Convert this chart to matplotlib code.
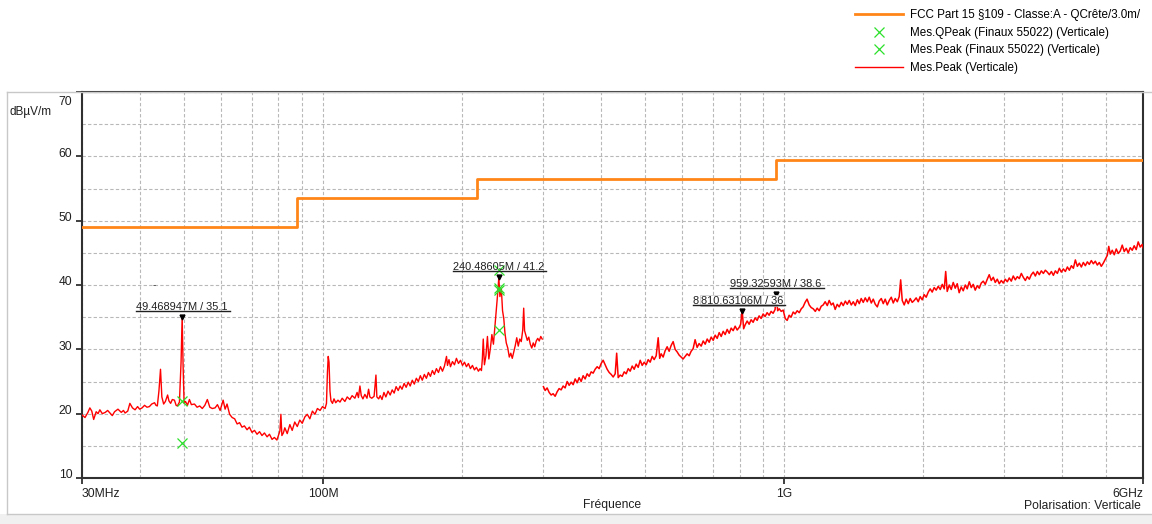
import numpy as np
import matplotlib
matplotlib.use('Agg')
import matplotlib.pyplot as plt
import matplotlib.transforms as mtrans
from matplotlib.lines import Line2D
from matplotlib.patches import Rectangle

plt.rcParams['font.family'] = ['Liberation Sans', 'DejaVu Sans']

W, H = 1152, 524

# FCC Part 15 class A limit at 3 m (MHz edges, dBuV/m)
limit_edges = [30, 88, 216, 960, 6000]
limit_levels = [49.0, 53.5, 56.4, 59.5]

# peak sweep, 30 - 300 MHz (MHz, dBuV/m)
peak_lo = [
    (30.0, 19.8), (30.45, 19.4), (30.9, 20.2), (31.2, 20.9), (31.5, 20.4), (31.8, 19.1),
    (32.2, 20.3), (32.5, 20.0), (32.8, 20.6), (33.2, 20.0), (33.7, 20.2), (34.1, 20.5),
    (34.5, 20.1), (34.9, 19.7), (35.3, 20.3), (35.9, 20.7), (36.5, 20.2), (36.9, 20.5),
    (37.2, 20.1), (37.7, 20.4), (38.1, 21.6), (38.6, 20.9), (39.1, 20.6), (39.6, 21.1),
    (40.0, 20.7), (40.5, 20.9), (41.0, 21.3), (41.5, 21.0), (42.0, 21.1), (42.5, 21.5),
    (43.1, 21.7), (43.4, 21.3), (43.7, 21.2), (44.05, 23.5), (44.4, 26.9), (44.7, 22.6),
    (45.1, 21.5), (45.5, 21.9), (46.0, 22.9), (46.3, 22.0), (46.7, 21.6), (47.1, 22.2),
    (47.6, 22.1), (48.0, 21.3), (48.3, 21.2), (48.8, 21.8), (49.2, 28.0), (49.47, 35.1),
    (49.7, 27.5), (49.95, 21.6), (50.3, 21.9), (50.8, 21.3), (51.3, 22.2), (51.8, 21.4),
    (52.6, 21.5), (53.3, 21.0), (54.0, 21.2), (54.7, 20.8), (55.4, 21.3), (56.1, 22.2),
    (56.8, 21.0), (57.5, 20.8), (58.3, 20.9), (59.0, 21.4), (59.8, 20.5), (60.7, 22.1),
    (61.3, 20.7), (61.9, 21.5), (62.7, 19.9), (63.5, 19.4), (64.3, 19.2), (65.1, 18.4),
    (65.9, 18.6), (66.7, 17.9), (67.5, 18.1), (68.4, 17.5), (69.2, 17.9), (70.1, 17.1),
    (71.0, 17.4), (71.9, 16.8), (72.8, 17.2), (73.7, 16.6), (74.6, 17.0), (75.6, 16.4),
    (76.5, 16.8), (77.5, 16.0), (78.4, 16.3), (79.4, 15.9), (80.0, 16.6), (80.6, 17.3),
    (81.0, 19.9), (81.4, 16.6), (82.0, 17.0), (82.6, 17.8), (83.6, 16.9), (84.7, 18.3),
    (85.7, 17.4), (86.8, 18.7), (87.9, 18.0), (89.0, 19.0), (90.1, 18.5), (91.3, 19.5),
    (92.4, 19.9), (93.6, 19.2), (94.8, 20.4), (96.0, 19.9), (97.2, 20.8), (98.5, 20.5),
    (99.7, 21.1), (101.0, 20.8), (101.7, 21.6), (102.2, 26.5), (102.6, 28.9), (103.0, 28.0),
    (103.5, 23.5), (104.0, 22.0), (104.8, 21.6), (105.6, 22.3), (106.5, 21.7), (107.7, 22.1),
    (108.8, 21.8), (110.0, 22.4), (111.5, 21.9), (112.8, 22.6), (114.3, 22.2), (115.6, 22.8),
    (117.2, 22.4), (118.5, 23.3), (119.3, 22.5), (120.2, 24.3), (121.0, 22.8), (122.0, 22.3),
    (123.2, 23.0), (124.5, 22.4), (125.5, 23.8), (126.3, 22.6), (127.5, 22.4), (129.0, 22.7),
    (130.2, 26.0), (130.8, 22.6), (132.0, 22.3), (133.0, 22.8), (134.2, 22.2), (135.5, 23.3),
    (136.8, 22.6), (138.3, 23.5), (139.8, 22.9), (141.2, 23.7), (142.6, 23.2), (144.0, 24.2),
    (145.5, 23.6), (146.9, 24.3), (148.3, 23.8), (149.9, 24.7), (151.4, 24.1), (153.0, 24.9),
    (154.5, 24.3), (156.1, 25.2), (157.7, 24.6), (159.3, 25.5), (160.9, 25.0), (162.5, 25.9),
    (164.1, 25.2), (165.8, 26.1), (167.5, 25.5), (169.2, 26.4), (170.9, 25.8), (172.6, 26.7),
    (174.3, 26.1), (176.1, 27.0), (177.9, 26.4), (179.7, 27.3), (181.5, 26.6), (183.3, 27.4),
    (185.2, 28.9), (186.1, 27.5), (187.5, 28.4), (188.9, 27.3), (190.8, 28.1), (192.7, 27.6),
    (194.6, 28.6), (196.6, 27.8), (198.6, 28.3), (200.6, 27.5), (202.6, 28.0), (204.6, 27.3),
    (206.6, 27.8), (208.7, 27.0), (210.8, 27.5), (212.9, 26.8), (215.0, 27.2), (217.2, 26.6),
    (219.0, 27.0), (220.5, 26.7), (221.5, 28.5), (222.5, 31.6), (223.8, 27.6), (225.5, 29.0),
    (227.2, 32.0), (228.8, 28.5), (230.6, 30.2), (232.3, 32.3), (234.1, 30.8), (235.8, 33.5),
    (237.6, 36.3), (239.0, 38.5), (240.5, 41.2), (241.8, 38.2), (243.5, 39.5), (245.0, 36.0),
    (246.5, 34.8), (248.0, 32.5), (249.6, 31.0), (251.5, 30.2), (253.4, 28.8), (255.3, 29.4),
    (257.2, 28.6), (259.1, 29.6), (261.1, 30.6), (263.0, 31.8), (265.0, 30.5), (267.0, 31.6),
    (269.0, 31.2), (271.0, 33.0), (272.3, 36.4), (273.5, 32.9), (275.2, 32.2), (277.2, 31.4),
    (279.3, 31.9), (281.4, 30.8), (283.5, 30.2), (285.6, 31.0), (287.7, 30.4), (289.9, 31.3),
    (292.1, 31.7), (294.3, 31.3), (296.5, 32.0), (298.7, 31.6),
]

# peak sweep, 300 MHz - 6 GHz
peak_hi = [
    (300.5, 24.2), (303.1, 23.6), (306.1, 24.0), (309.2, 23.3), (312.3, 22.9), (315.4, 23.1),
    (318.6, 22.7), (321.8, 23.4), (325.0, 23.9), (328.3, 23.7), (331.6, 24.3), (334.9, 24.0),
    (338.3, 25.0), (341.7, 24.4), (345.1, 24.9), (348.6, 24.5), (352.1, 25.4), (355.6, 24.8),
    (359.2, 25.6), (362.8, 25.0), (366.4, 25.9), (370.1, 25.4), (373.8, 26.2), (377.6, 25.8),
    (381.4, 26.5), (385.2, 26.3), (389.0, 26.9), (393.0, 27.3), (396.9, 27.0), (400.9, 27.8),
    (404.9, 28.3), (409.0, 27.6), (413.1, 26.9), (417.3, 26.4), (421.5, 26.1), (425.7, 25.7),
    (430.0, 26.2), (433.2, 29.4), (436.5, 25.6), (440.9, 26.0), (445.3, 25.8), (449.8, 26.5),
    (454.3, 26.2), (458.9, 27.0), (463.4, 26.6), (468.1, 27.4), (472.8, 26.9), (477.5, 27.7),
    (482.3, 27.2), (487.2, 28.3), (492.1, 27.5), (497.0, 28.0), (502.0, 27.6), (507.0, 28.4),
    (512.1, 28.0), (517.3, 28.9), (522.4, 28.4), (527.7, 29.0), (533.0, 31.8), (537.0, 28.6),
    (541.0, 29.3), (546.4, 28.8), (551.9, 29.8), (557.4, 30.4), (563.0, 29.7), (568.6, 30.6),
    (574.3, 31.2), (580.1, 30.0), (585.9, 29.6), (591.8, 29.1), (597.7, 28.8), (603.7, 28.5),
    (609.8, 28.9), (615.9, 29.3), (622.1, 29.0), (628.3, 29.7), (634.6, 30.1), (640.9, 31.5),
    (647.4, 30.3), (653.8, 30.9), (660.7, 30.5), (667.3, 31.3), (674.0, 30.8), (680.8, 31.6),
    (687.6, 31.1), (694.5, 31.9), (701.5, 31.4), (708.5, 32.2), (715.6, 31.7), (722.8, 32.6),
    (730.1, 32.0), (737.4, 32.8), (744.7, 32.3), (752.2, 33.1), (759.8, 32.5), (767.4, 33.3),
    (775.1, 32.9), (782.8, 33.6), (790.7, 33.0), (798.6, 33.4), (804.6, 33.9), (810.6, 36.0),
    (816.7, 33.2), (822.8, 33.8), (831.1, 34.4), (839.4, 33.9), (847.8, 34.6), (856.3, 34.2),
    (864.9, 34.9), (873.6, 34.5), (882.3, 35.2), (891.2, 34.8), (900.1, 35.5), (909.1, 35.1),
    (918.3, 35.7), (927.5, 35.3), (936.8, 35.9), (946.1, 35.6), (955.7, 36.2), (959.3, 38.6),
    (968.0, 36.0), (975.4, 36.3), (985.2, 35.9), (995.0, 36.1), (1005, 34.8), (1015, 34.5),
    (1025, 35.3), (1035, 35.0), (1046, 35.8), (1056, 35.5), (1067, 36.0), (1078, 35.7),
    (1089, 36.3), (1099, 36.6), (1110, 37.3), (1121, 37.8), (1133, 36.9), (1144, 36.5),
    (1156, 36.3), (1168, 35.9), (1179, 36.4), (1191, 36.0), (1203, 36.7), (1215, 36.9),
    (1227, 37.4), (1240, 36.8), (1252, 37.6), (1265, 36.9), (1277, 37.2), (1290, 36.2),
    (1303, 37.0), (1316, 36.6), (1330, 37.3), (1343, 36.8), (1357, 37.5), (1370, 37.0),
    (1384, 37.6), (1398, 36.9), (1412, 37.4), (1426, 36.8), (1441, 37.7), (1455, 37.1),
    (1469, 37.9), (1484, 37.3), (1499, 38.0), (1514, 37.4), (1529, 38.1), (1545, 37.2),
    (1560, 37.8), (1576, 37.0), (1592, 36.6), (1607, 37.5), (1624, 37.9), (1640, 37.1),
    (1656, 37.8), (1673, 36.9), (1690, 37.6), (1707, 38.1), (1724, 37.2), (1741, 37.9),
    (1759, 37.4), (1776, 38.2), (1789, 40.8), (1803, 37.6), (1821, 36.9), (1839, 37.8),
    (1858, 37.1), (1876, 37.9), (1895, 37.3), (1914, 37.6), (1933, 38.0), (1953, 37.4),
    (1972, 38.2), (1992, 37.7), (2012, 38.5), (2032, 38.1), (2053, 38.9), (2073, 39.4),
    (2094, 38.9), (2115, 39.6), (2136, 39.2), (2158, 39.8), (2180, 39.3), (2202, 40.1),
    (2224, 39.4), (2240, 42.1), (2257, 39.0), (2280, 40.0), (2303, 39.3), (2326, 40.4),
    (2349, 39.5), (2373, 40.2), (2396, 38.8), (2421, 39.7), (2445, 39.1), (2470, 40.0),
    (2494, 39.4), (2520, 40.5), (2545, 39.6), (2570, 40.1), (2596, 39.2), (2622, 39.9),
    (2649, 39.5), (2675, 40.3), (2702, 40.6), (2729, 40.1), (2757, 40.9), (2784, 41.6),
    (2812, 40.7), (2841, 41.2), (2869, 40.4), (2898, 40.9), (2927, 40.2), (2957, 40.7),
    (2986, 40.3), (3016, 40.9), (3047, 40.5), (3077, 41.1), (3108, 40.6), (3139, 41.4),
    (3171, 40.8), (3203, 41.3), (3235, 41.0), (3268, 41.8), (3300, 41.2), (3334, 40.7),
    (3367, 41.3), (3401, 40.9), (3435, 41.6), (3470, 42.0), (3505, 41.4), (3540, 42.1),
    (3575, 41.6), (3611, 42.2), (3648, 41.8), (3684, 42.3), (3721, 42.0), (3759, 41.6),
    (3797, 42.1), (3835, 41.5), (3873, 42.2), (3912, 41.8), (3951, 42.6), (3991, 42.0),
    (4031, 42.5), (4072, 42.1), (4113, 42.8), (4154, 42.3), (4196, 43.0), (4238, 42.6),
    (4280, 43.9), (4323, 42.9), (4366, 43.4), (4410, 42.8), (4454, 43.5), (4499, 43.0),
    (4544, 43.6), (4589, 43.2), (4635, 43.8), (4682, 43.3), (4729, 43.7), (4776, 43.1),
    (4824, 43.5), (4872, 42.9), (4921, 43.4), (4970, 44.0), (5020, 44.6), (5057, 46.0),
    (5095, 44.8), (5146, 45.4), (5198, 44.7), (5250, 45.6), (5303, 44.9), (5356, 45.3),
    (5409, 46.2), (5463, 45.2), (5518, 45.7), (5573, 45.0), (5629, 45.8), (5686, 45.4),
    (5742, 46.1), (5800, 45.5), (5858, 46.7), (5917, 45.9), (5977, 46.3), (6000, 45.8),
]

# final measurements (MHz, dBuV/m)
qpeak_f = [49.47, 240.2, 240.5]
qpeak_v = [15.4, 33.0, 39.3]
fpeak_f = [49.47, 240.6, 240.6]
fpeak_v = [21.9, 42.4, 39.5]

# marker labels
mark_f = [49.468947, 240.48605, 959.32593]
mark_v = [35.1, 41.2, 38.6]
mark_txt = ['49.468947M / 35.1', '240.48605M / 41.2', '959.32593M / 38.6']
mark2_f, mark2_v, mark2_txt = 810.63106, 36.0, '810.63106M / 36'

xticks = [30, 100, 1000, 6000]
xtick_labels = ['30MHz', '100M', '1G', '6GHz']

fig = plt.figure(figsize=(W / 100, H / 100), dpi=100)
ax = fig.add_axes([82 / W, 1 - 478 / H, (1143 - 82) / W, (478 - 92) / H])

# outer frame like the report viewer
fig.add_artist(Rectangle((0, 0), 1, 10 / H, transform=fig.transFigure,
                         facecolor='#f0f0f0', edgecolor='none', zorder=-5))
fig.add_artist(Line2D([7 / W, 7 / W], [10 / H, 1 - 92 / H], color='#c8c8c8', lw=1))
fig.add_artist(Line2D([7 / W, 1], [1 - 92 / H, 1 - 92 / H], color='#c8c8c8', lw=1))
fig.add_artist(Line2D([7 / W, 1], [10 / H, 10 / H], color='#c8c8c8', lw=1))

lo = np.array(peak_lo)
hi = np.array(peak_hi)
ax.plot(lo[:, 0], lo[:, 1], color='#ff0000', lw=1.0, zorder=3)
ax.plot(hi[:, 0], hi[:, 1], color='#ff0000', lw=1.1, zorder=3)
ax.step(limit_edges, limit_levels + [limit_levels[-1]], where='post',
        color='#ff8518', lw=2.0, zorder=4)

ax.plot(qpeak_f, qpeak_v, 'x', color='#2be02b', ms=7.5, mew=0.9, zorder=5)
ax.plot(fpeak_f, fpeak_v, 'x', color='#2be02b', ms=7.5, mew=0.9, zorder=5)

ax.set_xscale('log')
ax.set_xlim(30, 6000)
ax.set_ylim(10, 70)
ax.set_xticks(xticks)
ax.set_xticklabels(xtick_labels)
ax.xaxis.set_minor_locator(matplotlib.ticker.LogLocator(base=10, subs=np.arange(2, 10)))
ax.xaxis.set_minor_formatter(matplotlib.ticker.NullFormatter())
ax.set_yticks(np.arange(10, 71, 10))
ax.set_yticks(np.arange(15, 70, 10), minor=True)
ax.tick_params(which='major', length=4, width=1.3, color='#303030', labelsize=8.7,
               labelcolor='#202020', pad=3)
ax.tick_params(which='minor', length=0)
labs = ax.get_xticklabels()
labs[0].set_ha('left')
labs[-1].set_ha('right')
# y labels sit a little above their ticks, the top one is pushed inside
ylabs = ax.get_yticklabels()
up = mtrans.ScaledTranslation(0, 3 / 72, fig.dpi_scale_trans)
down = mtrans.ScaledTranslation(0, -6 / 72, fig.dpi_scale_trans)
for lab in ylabs[:-1]:
    lab.set_transform(lab.get_transform() + up)
ylabs[-1].set_transform(ylabs[-1].get_transform() + down)

ax.grid(True, which='both', color='#b8b8b8', linestyle=(0, (3, 2)), lw=0.8)
ax.set_axisbelow(True)
for s in ax.spines.values():
    s.set_color('#303030')
    s.set_linewidth(1.5)

fig.text(10 / W, 1 - 112 / H, 'dBµV/m', fontsize=8.5, color='#202020', va='center')
fig.text(612 / W, 1 - 505 / H, 'Fréquence', fontsize=8.7, color='#202020', ha='center', va='center')
fig.text(1141 / W, 1 - 506 / H, 'Polarisation: Verticale', fontsize=8.7, color='#202020',
         ha='right', va='center')
ax.text(43.0, 40.0, '-', fontsize=7, color='#303030', ha='center', va='center')

# marker labels with underline
labels = []
for f, v, t in zip(mark_f, mark_v, mark_txt):
    ax.plot(f, v, marker='v', color='black', ms=3.5, zorder=6)
    labels.append(ax.annotate(t, (f, v), xytext=(0, 3.5), textcoords='offset points',
                              ha='center', va='bottom', fontsize=7.9, color='#202020', zorder=7))
ax.plot(mark2_f, mark2_v, marker='v', color='black', ms=3.5, zorder=6)
labels.append(ax.annotate(mark2_txt, (mark2_f, mark2_v), xytext=(-6, 3.5),
                          textcoords='offset points', ha='center', va='bottom',
                          fontsize=7.9, color='#202020', zorder=7))
labels.append(ax.annotate(mark2_txt, (mark2_f, mark2_v), xytext=(0, 3.5),
                          textcoords='offset points', ha='center', va='bottom',
                          fontsize=7.9, color='#202020', zorder=8,
                          bbox=dict(boxstyle='square,pad=0.05', fc='white', ec='#d0d0d0', lw=0.6)))

handles = [Line2D([], [], color='#ff8518', lw=2.0),
           Line2D([], [], ls='none', marker='x', color='#2be02b', ms=7.5, mew=0.9),
           Line2D([], [], ls='none', marker='x', color='#2be02b', ms=7.5, mew=0.9),
           Line2D([], [], color='#ff0000', lw=1.0)]
names = ['FCC Part 15 §109 - Classe:A - QCrête/3.0m/',
         'Mes.QPeak (Finaux 55022) (Verticale)',
         'Mes.Peak (Finaux 55022) (Verticale)',
         'Mes.Peak (Verticale)']
fig.legend(handles, names, loc='upper left', bbox_to_anchor=(855 / W, 1 - 9 / H),
           frameon=False, fontsize=8.4, handlelength=4.1, handletextpad=0.6,
           labelspacing=0.48, borderpad=0, borderaxespad=0)

fig.canvas.draw()
inv = fig.transFigure.inverted()
for t in labels:
    bb = t.get_window_extent()
    (x0, y0), (x1, _) = inv.transform([(bb.x0, bb.y0 + 1), (bb.x1 + 2, bb.y0 + 1)])
    fig.add_artist(Line2D([x0, x1], [y0, y0], color='#202020', lw=1.0, zorder=9))

fig.savefig('out.png', dpi=100)
